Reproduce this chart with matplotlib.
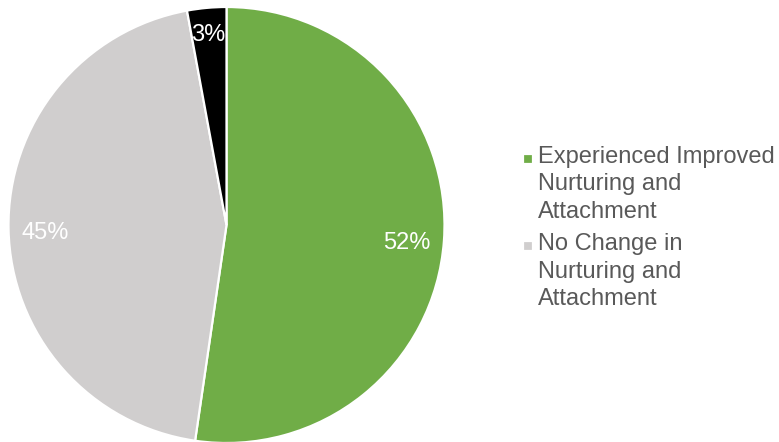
#!/usr/bin/env python3
"""Pie chart: change in nurturing and attachment."""

import matplotlib
matplotlib.use('Agg')
import matplotlib.pyplot as plt
from matplotlib.legend_handler import HandlerPatch
from matplotlib.patches import Rectangle

plt.rcParams['font.family'] = ['Liberation Sans', 'DejaVu Sans']

labels = ['Experienced Improved\nNurturing and\nAttachment',
          'No Change in\nNurturing and\nAttachment',
          'Other']
shares = [52.3, 44.8, 2.9]
colors = ['#70AD47', '#D0CECE', '#000000']
FONT = 17


def first_line_square(legend, orig_handle, xdescent, ydescent, width, height, fontsize):
    # square marker lined up with the first line of a three-line label
    size = 0.42 * fontsize
    shift = 1.09 * fontsize
    return Rectangle((width - size - xdescent, (height - size) / 2 - ydescent + shift), size, size)


fig = plt.figure(figsize=(7.79, 4.42), dpi=100)
W, H = 779, 442
cx, cy, r = 226.5, 217, 218
ax = fig.add_axes([(cx - r) / W, (cy - r) / H, 2 * r / W, 2 * r / H])
wedges, texts, autotexts = ax.pie(shares, colors=colors, startangle=90, counterclock=False,
                                  autopct='%.0f%%', pctdistance=0.83,
                                  wedgeprops=dict(edgecolor='white', linewidth=1.6),
                                  textprops=dict(color='white', fontsize=FONT))
for w in wedges:
    w.set_clip_on(False)
for i, t in enumerate(autotexts):
    x, y = t.get_position()
    if i == 2:
        # the small slice label sits a little further out
        x, y = x * 0.9 / 0.83, y * 0.9 / 0.83
    t.set_position((x, y - 0.023))
ax.set_xlim(-1, 1)
ax.set_ylim(-1, 1)
ax.axis('off')

leg = fig.legend(wedges[:2], labels[:2], loc='center left',
                 bbox_to_anchor=(521 / W, 1 - 228 / H), frameon=False,
                 fontsize=FONT, labelcolor='#595959', handlelength=0.5, handleheight=0.5,
                 handletextpad=0.2, labelspacing=0.45, borderpad=0, borderaxespad=0,
                 handler_map={w: HandlerPatch(patch_func=first_line_square) for w in wedges[:2]})
for t in leg.get_texts():
    t.set_linespacing(1.32)

fig.savefig('out.png', dpi=100)
